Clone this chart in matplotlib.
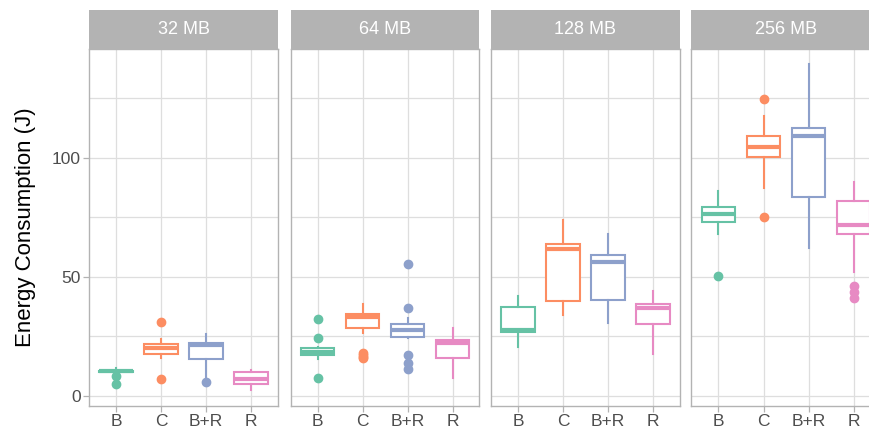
import matplotlib.pyplot as plt
from matplotlib.ticker import MultipleLocator

plt.rcParams['font.family'] = ['Liberation Sans', 'DejaVu Sans']

sizes = ['32 MB', '64 MB', '128 MB', '256 MB']
methods = ['B', 'C', 'B+R', 'R']
colors = ['#66C2A5', '#FC8D62', '#8DA0CB', '#E78AC3']

# box statistics per memory size (rows) and method (columns)
q1 = [[10.0, 17.5, 15.7, 4.9],
      [17.2, 28.4, 24.9, 16.1],
      [27.0, 40.0, 40.3, 30.1],
      [73.0, 100.1, 83.5, 67.9]]
med = [[10.3, 20.0, 21.5, 7.0],
       [18.6, 33.1, 27.7, 22.1],
       [27.7, 61.6, 56.4, 36.8],
       [76.5, 104.3, 108.9, 71.8]]
q3 = [[10.6, 21.7, 22.1, 10.2],
      [20.0, 34.5, 30.1, 23.5],
      [37.2, 63.7, 59.2, 38.7],
      [79.5, 108.9, 112.3, 81.9]]
whis_lo = [[9.0, 16.1, 7.4, 2.5],
           [15.4, 26.3, 24.5, 7.7],
           [20.7, 33.9, 30.5, 17.6],
           [67.9, 87.2, 62.0, 52.2]]
whis_hi = [[11.7, 23.8, 26.0, 10.9],
           [20.7, 38.5, 32.9, 28.4],
           [42.0, 73.7, 67.9, 44.1],
           [86.1, 117.4, 139.1, 89.6]]
outliers = [[[8.4, 4.9], [31.1, 7.1], [5.8], []],
            [[32.2, 24.4, 7.4], [18.0, 17.2, 16.5, 15.8], [55.2, 37.1, 17.2, 13.7, 11.2], []],
            [[], [], [], []],
            [[50.4], [124.8, 74.9], [], [46.2, 43.8, 41.3]]]

W, H = 870, 432
fig = plt.figure(figsize=(W / 100, H / 100), dpi=100)

border = '#B3B3B3'
grid_col = '#DEDEDE'
panel_w = 189
panel_lefts = [89, 290.5, 491, 691.5]
bottom_px, top_px, strip_top_px = 406, 48.5, 10

for i, size in enumerate(sizes):
    left = panel_lefts[i]
    ax = fig.add_axes([left / W, 1 - bottom_px / H, panel_w / W, (bottom_px - top_px) / H])
    for j in range(len(methods)):
        stats = [dict(q1=q1[i][j], med=med[i][j], q3=q3[i][j],
                      whislo=whis_lo[i][j], whishi=whis_hi[i][j],
                      fliers=outliers[i][j])]
        c = colors[j]
        ax.bxp(stats, positions=[j + 1], widths=0.75, showcaps=False,
               patch_artist=True,
               boxprops=dict(facecolor='white', edgecolor=c, linewidth=1.5),
               medianprops=dict(color=c, linewidth=3.0, solid_capstyle='butt'),
               whiskerprops=dict(color=c, linewidth=1.5),
               flierprops=dict(marker='o', markerfacecolor=c, markeredgecolor=c,
                               markersize=6),
               zorder=3)

    ax.set_xlim(0.4, 4.6)
    ax.set_ylim(-4.2, 145.8)
    ax.set_xticks(range(1, 5))
    ax.set_xticklabels(methods)
    ax.yaxis.set_major_locator(MultipleLocator(50))
    ax.yaxis.set_minor_locator(MultipleLocator(25))
    ax.grid(True, which='major', color=grid_col, linewidth=0.9, zorder=0)
    ax.grid(True, which='minor', axis='y', color=grid_col, linewidth=0.9, zorder=0)
    ax.set_axisbelow(True)
    for s in ax.spines.values():
        s.set_color(border)
        s.set_linewidth(1.0)
    ax.tick_params(axis='both', which='major', color=border, length=4, width=0.9,
                   labelsize=12.5, labelcolor='#4D4D4D', pad=2)
    ax.tick_params(axis='y', which='minor', length=0)
    if i == 0:
        ax.set_ylabel('Energy Consumption (J)', fontsize=16, color='black', labelpad=11)
    else:
        ax.tick_params(axis='y', which='major', left=False, labelleft=False)

    # facet strip
    sax = fig.add_axes([left / W, 1 - top_px / H, panel_w / W, (top_px - strip_top_px) / H])
    sax.set_facecolor(border)
    sax.set_xticks([])
    sax.set_yticks([])
    for s in sax.spines.values():
        s.set_visible(False)
    sax.text(0.5, 0.5, size, ha='center', va='center', color='white',
             fontsize=13, transform=sax.transAxes)

fig.savefig('out.png', dpi=100)
